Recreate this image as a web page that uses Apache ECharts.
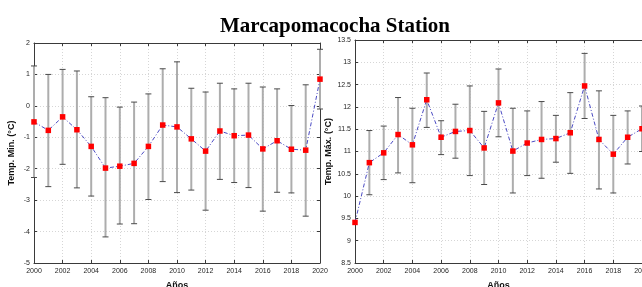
<!DOCTYPE html>
<html>
<head>
<meta charset="utf-8">
<script src="https://cdn.jsdelivr.net/npm/echarts@6/dist/echarts.min.js"></script>
<style>
  html, body { margin: 0; padding: 0; background: #fff; }
  #main { width: 642px; height: 287px; }
</style>
</head>
<body>
<div id="main"></div>
<script type="text/javascript">
// datos
var years = [2000, 2001, 2002, 2003, 2004, 2005, 2006, 2007, 2008, 2009, 2010,
             2011, 2012, 2013, 2014, 2015, 2016, 2017, 2018, 2019, 2020];

// Temp. minima
var minMean  = [-0.51, -0.78, -0.35, -0.76, -1.29, -1.98, -1.92, -1.83, -1.29, -0.61, -0.67,
                -1.05, -1.44, -0.80, -0.95, -0.93, -1.37, -1.11, -1.38, -1.41, 0.85];
var minUpper = [1.27, 1.00, 1.16, 1.11, 0.29, 0.26, -0.04, 0.12, 0.38, 1.18, 1.40,
                0.56, 0.44, 0.72, 0.54, 0.72, 0.60, 0.54, 0.01, 0.67, 1.80];
var minLower = [-2.28, -2.57, -1.86, -2.61, -2.87, -4.17, -3.76, -3.75, -2.98, -2.41, -2.76,
                -2.68, -3.32, -2.34, -2.44, -2.60, -3.35, -2.75, -2.77, -3.51, -0.10];

// Temp. maxima
var maxMean  = [9.41, 10.75, 10.97, 11.38, 11.15, 12.16, 11.32, 11.45, 11.47, 11.08, 12.09,
                11.01, 11.19, 11.27, 11.29, 11.42, 12.47, 11.27, 10.94, 11.32, 11.51];
var maxUpper = [null, 11.47, 11.57, 12.21, 11.97, 12.76, 11.69, 12.06, 12.47, 11.90, 12.85,
                11.97, 11.91, 12.12, 11.81, 12.32, 13.20, 12.36, 11.81, 11.91, 12.02];
var maxLower = [null, 10.03, 10.37, 10.52, 10.30, 11.54, 10.93, 10.85, 10.46, 10.26, 11.33,
                10.07, 10.46, 10.40, 10.76, 10.51, 11.74, 10.16, 10.07, 10.72, 11.00];

var minTicks = { min: -5, max: 2, interval: 1 };
var maxTicks = { min: 8.5, max: 13.5, interval: 0.5 };

(function(){
    var myChart = echarts.init(document.getElementById('main'));

    var labelFont = { fontFamily: 'Liberation Sans', fontSize: 7, color: '#262626' };
    var nameFont = { fontFamily: 'Liberation Sans', fontSize: 9, fontWeight: 'bold', color: '#111' };
    var boxLine = { show: true, onZero: false, lineStyle: { color: '#3a3a3a', width: 1 } };
    var tick = { show: true, inside: true, length: 3, lineStyle: { color: '#3a3a3a' } };
    var grid = { show: true, lineStyle: { color: '#d6d6d6', type: [1, 2], width: 1 } };

    function pairs(ys) {
        return years.map(function (y, i) { return [y, ys[i]]; });
    }
    function bars(lo, hi) {
        var out = [];
        years.forEach(function (y, i) {
            if (lo[i] != null && hi[i] != null) out.push([y, lo[i], hi[i]]);
        });
        return out;
    }

    function errorBar(params, api) {
        var x = api.value(0);
        var a = api.coord([x, api.value(1)]);
        var b = api.coord([x, api.value(2)]);
        var w = 3;
        return {
            type: 'group',
            children: [
                { type: 'line', shape: { x1: a[0], y1: a[1], x2: b[0], y2: b[1] },
                  style: { stroke: '#adadad', lineWidth: 2 } },
                { type: 'line', shape: { x1: a[0] - w, y1: a[1], x2: a[0] + w, y2: a[1] },
                  style: { stroke: '#4a4a4a', lineWidth: 1 } },
                { type: 'line', shape: { x1: b[0] - w, y1: b[1], x2: b[0] + w, y2: b[1] },
                  style: { stroke: '#4a4a4a', lineWidth: 1 } }
            ]
        };
    }

    function xAxes(gi) {
        return [
            { gridIndex: gi, type: 'value', min: 2000, max: 2020, interval: 2,
              name: 'Años', nameLocation: 'middle', nameGap: 18, nameTextStyle: nameFont,
              axisLine: boxLine, axisTick: tick, splitLine: grid,
              axisLabel: Object.assign({ margin: 5, formatter: function (v) { return String(v); } }, labelFont) },
            { gridIndex: gi, type: 'value', position: 'top', min: 2000, max: 2020, interval: 2,
              axisLine: boxLine, axisTick: tick, splitLine: { show: false }, axisLabel: { show: false } }
        ];
    }
    function yAxes(gi, t, name, gap, withRight) {
        var axes = [
            { gridIndex: gi, type: 'value', min: t.min, max: t.max, interval: t.interval,
              name: name, nameLocation: 'middle', nameGap: gap, nameTextStyle: nameFont,
              axisLine: boxLine, axisTick: tick, splitLine: grid,
              axisLabel: Object.assign({ margin: 4 }, labelFont) }
        ];
        if (withRight) {
            axes.push({ gridIndex: gi, type: 'value', position: 'right', min: t.min, max: t.max, interval: t.interval,
              axisLine: boxLine, axisTick: tick, splitLine: { show: false }, axisLabel: { show: false } });
        }
        return axes;
    }

    var lineStyle = { color: '#4b4bc4', width: 1, type: [4, 2, 1, 2] };
    var itemStyle = { color: '#ff0000' };

    var option = {
        animation: false,
        backgroundColor: '#ffffff',
        title: {
            text: 'Marcapomacocha Station',
            left: 330, top: 11, textAlign: 'center',
            textStyle: { fontFamily: 'Liberation Serif', fontSize: 21, fontWeight: 'bold', color: '#000' }
        },
        grid: [
            { left: 34, top: 43, width: 286, height: 220, outerBoundsMode: 'none', containLabel: false },
            { left: 355, top: 40, width: 287, height: 223, outerBoundsMode: 'none', containLabel: false }
        ],
        xAxis: xAxes(0).concat(xAxes(1)),
        // y axes: 0 = min izq, 1 = min der, 2 = max izq (el borde derecho queda fuera)
        yAxis: yAxes(0, minTicks, 'Temp. Min. (°C)', 18, true).concat(yAxes(1, maxTicks, 'Temp. Máx. (°C)', 22, false)),
        series: [
            { type: 'custom', xAxisIndex: 0, yAxisIndex: 0, renderItem: errorBar,
              data: bars(minLower, minUpper), z: 1 },
            { type: 'line', xAxisIndex: 0, yAxisIndex: 0, data: pairs(minMean),
              symbol: 'rect', symbolSize: 5.5, showSymbol: true, lineStyle: lineStyle, itemStyle: itemStyle, z: 3 },
            { type: 'custom', xAxisIndex: 2, yAxisIndex: 2, renderItem: errorBar,
              data: bars(maxLower, maxUpper), z: 1 },
            { type: 'line', xAxisIndex: 2, yAxisIndex: 2, data: pairs(maxMean),
              symbol: 'rect', symbolSize: 5.5, showSymbol: true, lineStyle: lineStyle, itemStyle: itemStyle, z: 3 }
        ]
    };

    myChart.setOption(option);
})();
</script>
</body>
</html>
